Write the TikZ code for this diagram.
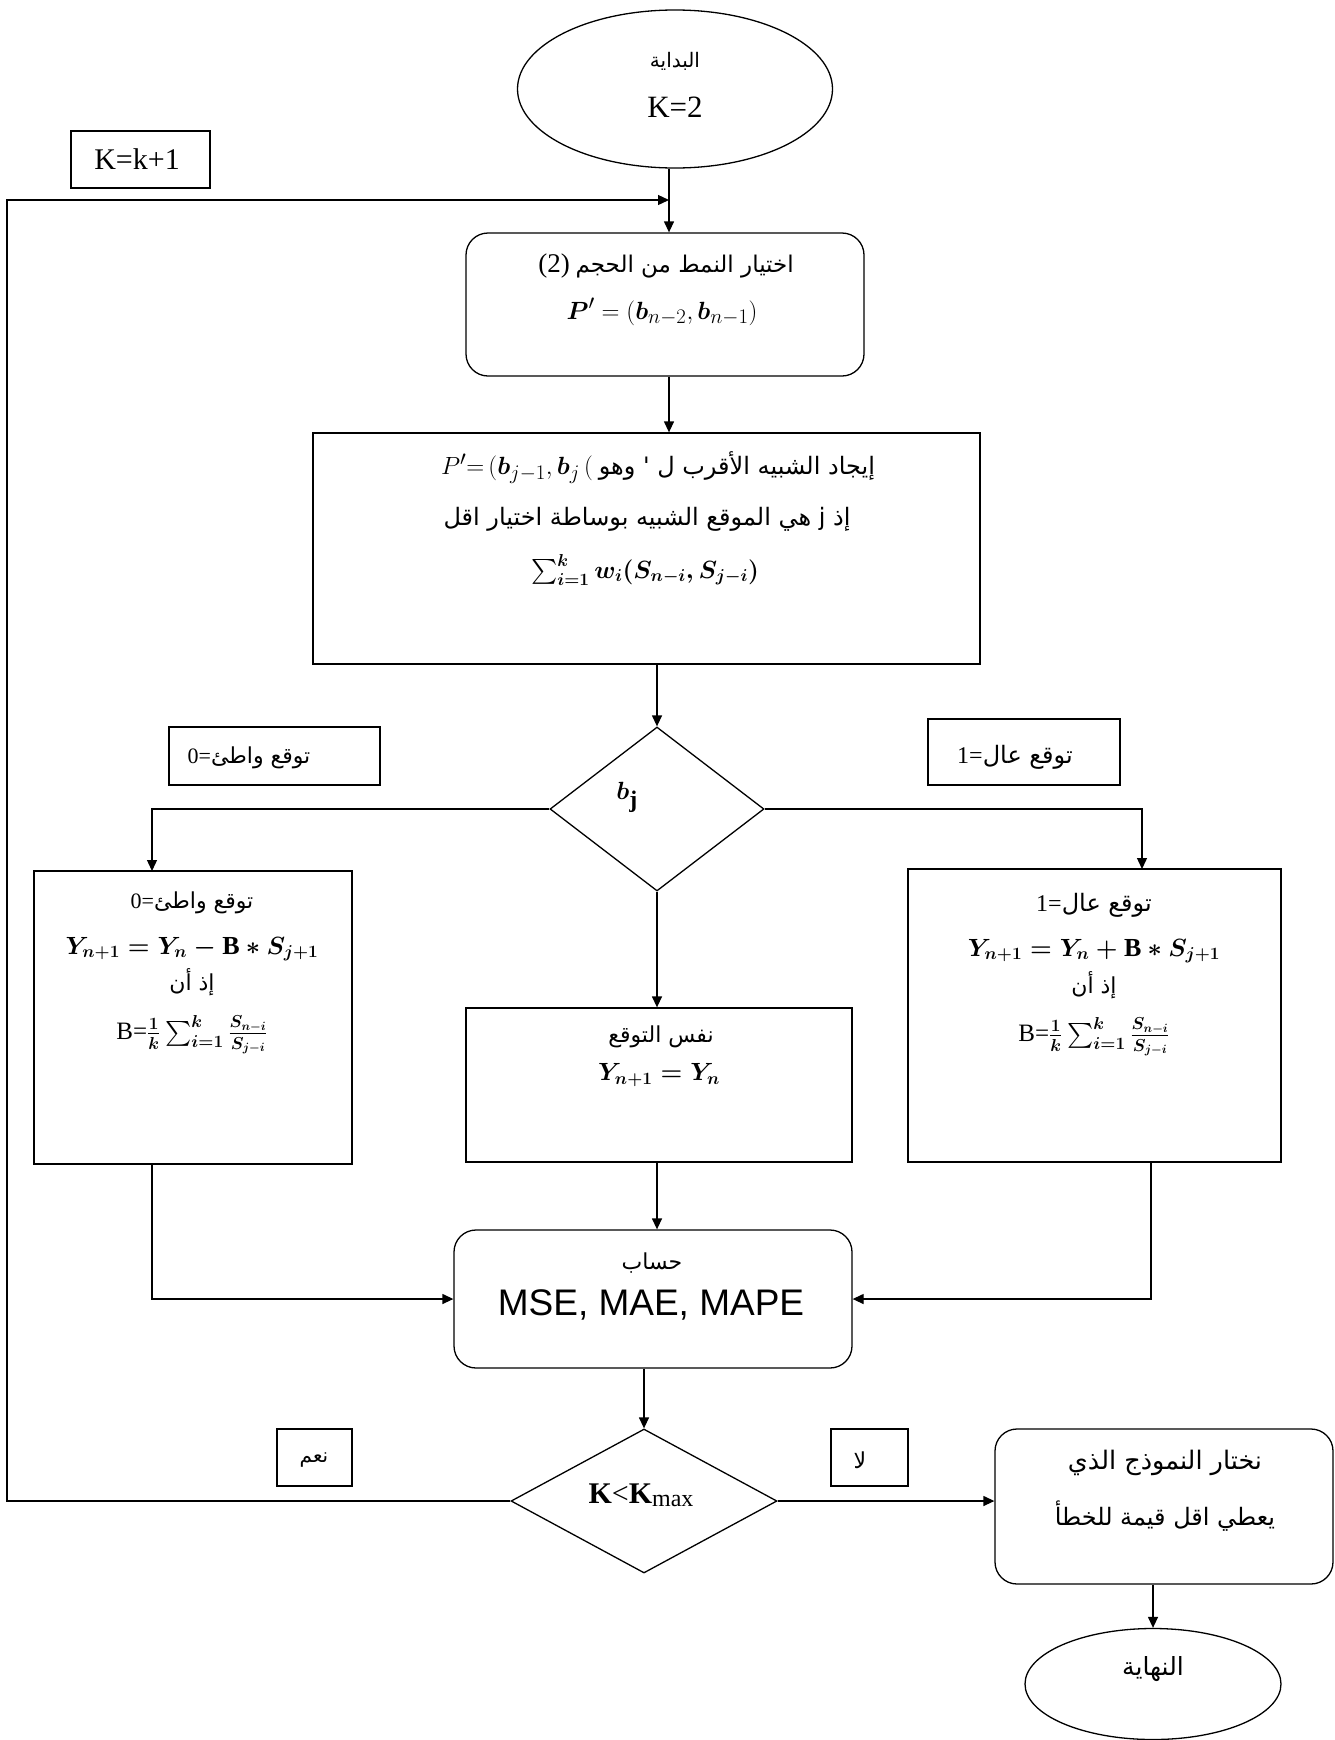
\documentclass[tikz,border=0pt]{standalone}
\usepackage{fontspec}
\usepackage{amsmath}
\setmainfont{Liberation Serif}
\newfontfamily\arabicfont[Script=Arabic]{DejaVu Sans}
\newfontfamily\arialfont{Liberation Sans}
\TeXXeTstate=1
\usetikzlibrary{shapes.geometric,arrows.meta}
\newcommand{\artxt}[1]{{\arabicfont\beginR #1\endR}}
\newcommand{\fsz}[1]{\fontsize{#1}{#1}\selectfont}
\begin{document}
\begin{tikzpicture}[x=1pt,y=-1pt,line width=1.3pt,
  box/.style={draw,rectangle,inner sep=0pt,line width=1.3pt},
  rbox/.style={box,rounded corners=22pt},
  t/.style={inner sep=0pt,anchor=center},
  arr/.style={-{Triangle[length=11pt,width=10pt]},line width=1.3pt}]
\useasboundingbox (0,0) rectangle (1335,1740);
\fill[white] (0,0) rectangle (1335,1740);

% start
\node[ellipse,draw,minimum width=315pt,minimum height=158pt,inner sep=0pt] (start) at (675,89) {};
\node[t,font=\fsz{20}] (startA) at (675,61) {\artxt{البداية}};
\node[t,font=\fsz{31}] (startK) at (675,107) {K=2};

% K=k+1
\node[box,minimum width=139pt,minimum height=57pt] (kbox) at (140.5,159.5) {};
\node[t,font=\fsz{30}] (kboxT) at (137,159.5) {K=k+1};

% box1
\node[rbox,minimum width=398pt,minimum height=143pt] (box1) at (665,304.5) {};
\node[t,font=\fsz{23}] (b1a) at (666,266) {{\fsz{27}(2)} \artxt{اختيار النمط من الحجم}};
\node[t,font=\fsz{28}] (b1b) at (662,312) {$\boldsymbol{P}'= (\boldsymbol{b}_{n-2}, \boldsymbol{b}_{n-1})$};

% box2
\node[box,minimum width=667pt,minimum height=231pt] (box2) at (646.5,548.5) {};
\node[t,font=\fsz{24}] (b2a) at (658,468) {{\fsz{29}$P'{=}\,(\boldsymbol{b}_{j-1},\boldsymbol{b}_{j}\,($} \artxt{إيجاد الشبيه الأقرب ل ' وهو}};
\node[t,font=\fsz{24}] (b2b) at (647,519) {\artxt{إذ j هي الموقع الشبيه بوساطة اختيار اقل}};
\node[t,font=\fsz{24}] (b2c) at (645,570) {{\boldmath$\sum_{i=1}^{k} w_i(S_{n-i}, S_{j-i})$}};

% decision 1
\node[diamond,draw,minimum width=214pt,minimum height=164pt,inner sep=0pt] (d1) at (657,809) {};
\node[t,font=\fsz{34}] (bj) at (627,797) {$\boldsymbol{b}_{\mathbf{j}}$};

% labels
\node[box,minimum width=211pt,minimum height=58pt] (lab0) at (274.5,756) {};
\node[t,font=\fsz{22}] (lab0T) at (249,758) {0=\artxt{توقع واطئ}};
\node[box,minimum width=192pt,minimum height=66pt] (lab1) at (1024,752) {};
\node[t,font=\fsz{24}] (lab1T) at (1015,757) {1=\artxt{توقع عال}};

% left box
\node[box,minimum width=318pt,minimum height=293pt] (lb) at (193,1017.5) {};
\node[t,font=\fsz{22}] (ly1) at (192,903) {0=\artxt{توقع واطئ}};
\node[t,font=\fsz{26}] (ly2) at (192,949) {{\boldmath$Y_{n+1} = Y_n - \mathrm{B} * S_{j+1}$}};
\node[t,font=\fsz{22}] (ly3) at (192,982) {\artxt{إذ أن}};
\node[t,font=\fsz{25}] (ly4) at (192,1035) {B={\boldmath$\tfrac{1}{k}\textstyle\sum_{i=1}^{k}\tfrac{S_{n-i}}{S_{j-i}}$}};

% middle box
\node[box,minimum width=386pt,minimum height=154pt] (mb) at (659,1085) {};
\node[t,font=\fsz{22}] (my1) at (661,1037) {\artxt{نفس التوقع}};
\node[t,font=\fsz{26}] (my2) at (659,1075) {{\boldmath$Y_{n+1} = Y_n$}};

% right box
\node[box,minimum width=373pt,minimum height=293pt] (rb) at (1094.5,1015.5) {};
\node[t,font=\fsz{24}] (ry1) at (1094,905) {1=\artxt{توقع عال}};
\node[t,font=\fsz{26}] (ry2) at (1094,951) {{\boldmath$Y_{n+1} = Y_n + \mathrm{B} * S_{j+1}$}};
\node[t,font=\fsz{22}] (ry3) at (1094,985) {\artxt{إذ أن}};
\node[t,font=\fsz{25}] (ry4) at (1094,1037) {B={\boldmath$\tfrac{1}{k}\textstyle\sum_{i=1}^{k}\tfrac{S_{n-i}}{S_{j-i}}$}};

% calc
\node[rbox,minimum width=398pt,minimum height=138pt] (calc) at (653,1299) {};
\node[t,font=\fsz{22}] (calcA) at (652,1263) {\artxt{حساب}};
\node[t,font=\arialfont\fsz{37}] (calcB) at (651,1305) {MSE, MAE, MAPE};

% decision 2
\node[diamond,draw,minimum width=266pt,minimum height=144pt,inner sep=0pt] (d2) at (644,1501) {};
\node[t,font=\fsz{30}] (d2T) at (641,1495) {\textbf{K}<\textbf{K}\raisebox{-3pt}{\fsz{24}max}};

\node[box,minimum width=75pt,minimum height=57pt] (yes) at (314.5,1457.5) {};
\node[t,font=\fsz{20}] (yesT) at (314,1460) {\artxt{نعم}};
\node[box,minimum width=77pt,minimum height=57pt] (no) at (869.5,1457.5) {};
\node[t,font=\fsz{22}] (noT) at (860,1460) {\artxt{لا}};

% final
\node[rbox,minimum width=338pt,minimum height=155pt] (final) at (1164,1506.5) {};
\node[t,font=\fsz{25.5}] (f1) at (1165,1463) {\artxt{نختار النموذج الذي}};
\node[t,font=\fsz{24}] (f2) at (1165,1516) {\artxt{يعطي اقل قيمة للخطأ}};

% end
\node[ellipse,draw,minimum width=256pt,minimum height=111pt,inner sep=0pt] (end) at (1153,1684) {};
\node[t,font=\fsz{25}] (endT) at (1153,1669) {\artxt{النهاية}};

% coordinates
\coordinate (join) at (669,200);
\coordinate (lc1) at (7,1501);
\coordinate (lc2) at (7,200);
\coordinate (lt) at (152,871);
\coordinate (rt) at (1142,869);
\coordinate (lbb) at (152,1164);
\coordinate (rbb) at (1151,1162);

% connectors
\draw[arr] (start.south -| join) -- (box1.north -| join);
\draw[arr] (d2.west) -- (lc1) -- (lc2) -- (join);
\draw[arr] (box1.south -| join) -- (box2.north -| join);
\draw[arr] (box2.south -| d1.north) -- (d1.north);
\draw[arr] (d1.west) -| (lt);
\draw[arr] (d1.east) -| (rt);
\draw[arr] (d1.south) -- (d1.south |- mb.north);
\draw[arr] (lbb) |- (calc.west);
\draw[arr] (rbb) |- (calc.east);
\draw[arr] (mb.south -| d1.south) -- (calc.north -| d1.south);
\draw[arr] (calc.south -| d2.north) -- (d2.north);
\draw[arr] (d2.east) -- (d2.east -| final.west);
\draw[arr] (final.south -| end.north) -- (end.north);
\end{tikzpicture}
\end{document}
